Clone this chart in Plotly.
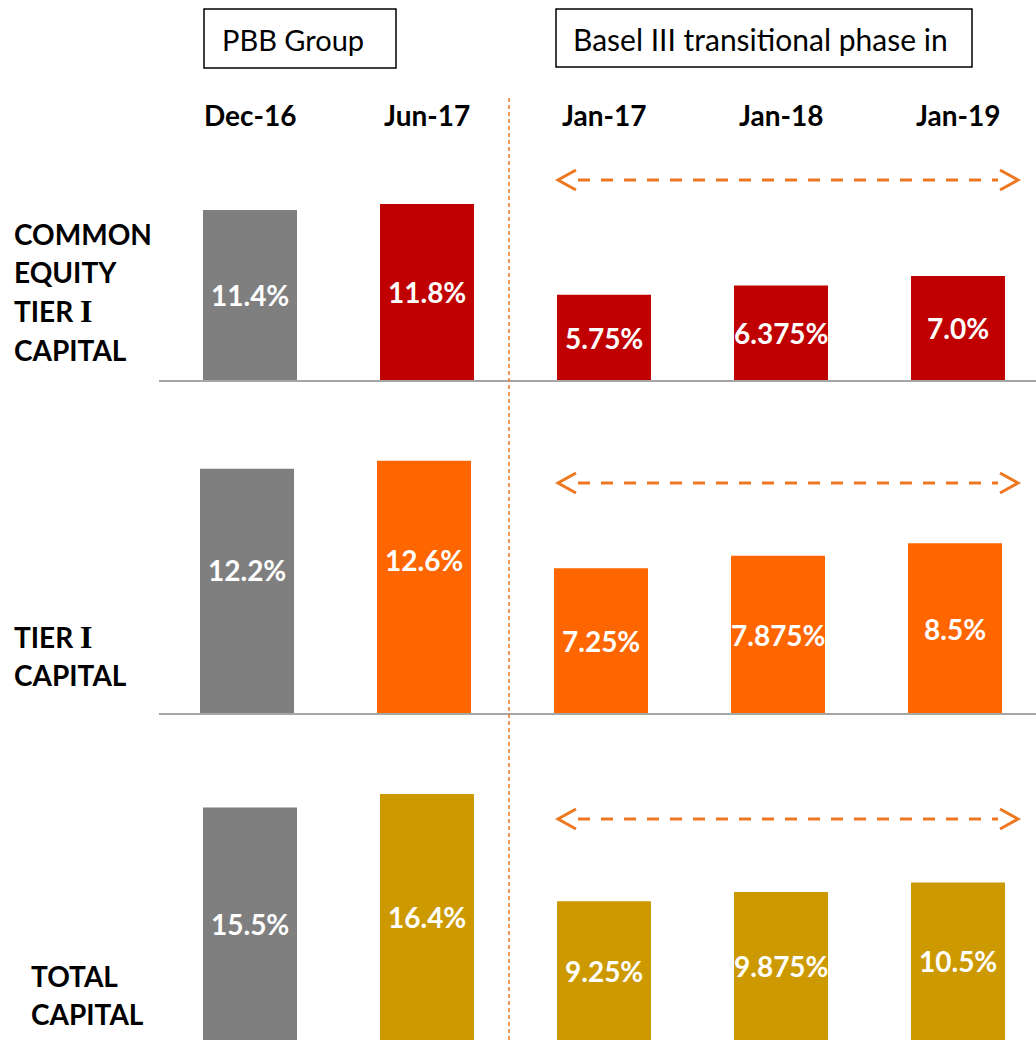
import plotly.graph_objects as go

# ---------------- data ----------------
periods = ["Dec-16", "Jun-17", "Jan-17", "Jan-18", "Jan-19"]
cet1_values = [11.4, 11.8, 5.75, 6.375, 7.0]
tier1_values = [12.2, 12.6, 7.25, 7.875, 8.5]
total_values = [15.5, 16.4, 9.25, 9.875, 10.5]
cet1_labels = ["11.4%", "11.8%", "5.75%", "6.375%", "7.0%"]
tier1_labels = ["12.2%", "12.6%", "7.25%", "7.875%", "8.5%"]
total_labels = ["15.5%", "16.4%", "9.25%", "9.875%", "10.5%"]
row_titles = [["COMMON", "EQUITY", "TIER I", "CAPITAL"], ["TIER I", "CAPITAL"], ["TOTAL", "CAPITAL"]]
group_titles = ["PBB Group", "Basel III transitional phase in"]

# ---------------- style ----------------
W, H = 1036, 1040
FONT = "Lato, 'Open Sans', sans-serif"
GRAY = "#7F7F7F"
RED = "#C00000"
ORANGE = "#FF6600"
GOLD = "#CC9900"
ARROW = "#EE7722"


def py(px):
    return 1 - px / H


def px_x(px):
    return px / W


rows = [
    dict(vals=cet1_values, labels=cet1_labels, color=RED, base=381, top=150, scale=15.0,
         center0=250, shifts=[0, 0, 0, 0, 0]),
    dict(vals=tier1_values, labels=tier1_labels, color=ORANGE, base=714, top=420, scale=20.1,
         center0=247, shifts=[21, 27, 0, 0, 0]),
    dict(vals=total_values, labels=total_labels, color=GOLD, base=1040, top=760, scale=15.0,
         center0=250, shifts=[0, 0, 0, 0, 0]),
]
STEP = 177.0
BARW = 94 / STEP

fig = go.Figure()
layout = dict(width=W, height=H, margin=dict(l=0, r=0, t=0, b=0),
              paper_bgcolor="white", plot_bgcolor="white", showlegend=False,
              font=dict(family=FONT))
annotations = []
shapes = []

for i, r in enumerate(rows):
    ax = "" if i == 0 else str(i + 1)
    colors = [GRAY, r["color"], r["color"], r["color"], r["color"]]
    fig.add_trace(go.Bar(
        x=periods, y=r["vals"], width=BARW, marker=dict(color=colors, line=dict(width=0)),
        xaxis="x" + ax, yaxis="y" + ax, hoverinfo="skip"))
    layout["xaxis" + ax] = dict(
        domain=[0, 1], anchor="y" + ax, type="category", categoryorder="array",
        categoryarray=periods,
        range=[-r["center0"] / STEP, (W - r["center0"]) / STEP],
        showgrid=False, showticklabels=False, zeroline=False, showline=False, ticks="")
    layout["yaxis" + ax] = dict(
        domain=[py(r["base"]), py(r["top"])], anchor="x" + ax,
        range=[0, (r["base"] - r["top"]) / r["scale"]],
        showgrid=False, showticklabels=False, zeroline=False, showline=False, ticks="")
    for j, (p, v, lab) in enumerate(zip(periods, r["vals"], r["labels"])):
        annotations.append(dict(
            x=p, y=v / 2, xref="x" + ax, yref="y" + ax, text="<b>" + lab + "</b>",
            showarrow=False, yshift=r["shifts"][j], xanchor="center", yanchor="middle",
            font=dict(family=FONT, size=28, color="white")))
    # baselines
    if i < 2:
        shapes.append(dict(type="line", xref="paper", yref="paper",
                           x0=px_x(159), x1=1, y0=py(r["base"]), y1=py(r["base"]),
                           line=dict(color="#A6A6A6", width=2)))

# column headers
for p in periods:
    annotations.append(dict(x=p, y=py(115), xref="x", yref="paper", text="<b>" + p + "</b>",
                            showarrow=False, xanchor="center", yanchor="middle",
                            font=dict(family=FONT, size=28, color="black")))

# group title boxes
shapes.append(dict(type="rect", xref="paper", yref="paper",
                   x0=px_x(204), x1=px_x(396), y0=py(68), y1=py(9),
                   line=dict(color="black", width=1.5)))
shapes.append(dict(type="rect", xref="paper", yref="paper",
                   x0=px_x(556), x1=px_x(972), y0=py(67), y1=py(9),
                   line=dict(color="black", width=1.5)))
annotations.append(dict(x=px_x(293), y=py(40), xref="paper", yref="paper", text=group_titles[0],
                        showarrow=False, xanchor="center", yanchor="middle",
                        font=dict(family=FONT, size=29, color="black")))
annotations.append(dict(x=px_x(760), y=py(39), xref="paper", yref="paper", text=group_titles[1],
                        showarrow=False, xanchor="center", yanchor="middle",
                        font=dict(family=FONT, size=30, color="black")))

# row titles
row_title_pos = [(12, [234, 272, 311, 350]), (12, [637, 675]), (29, [976, 1014])]
for lines, (xl, ys) in zip(row_titles, row_title_pos):
    for line, yy in zip(lines, ys):
        txt = line
        if line == "TIER I":
            txt = "TIER <span style=\"font-family:'Liberation Serif',serif;font-size:32px\">I</span>"
        annotations.append(dict(x=px_x(xl), y=py(yy), xref="paper", yref="paper",
                                xanchor="left", yanchor="middle", text="<b>" + txt + "</b>",
                                showarrow=False,
                                font=dict(family=FONT, size=28, color="black")))

# vertical dashed divider
shapes.append(dict(type="line", xref="paper", yref="paper", x0=px_x(509), x1=px_x(509),
                   y0=0, y1=py(98), line=dict(color=ARROW, width=1.5, dash="4px,3px")))

# double-headed dashed arrows
for ay in [180, 483, 819]:
    shapes.append(dict(type="line", xref="paper", yref="paper",
                       x0=px_x(578), x1=px_x(998), y0=py(ay), y1=py(ay),
                       line=dict(color=ARROW, width=3, dash="12px,11px")))
    shapes.append(dict(type="path", xref="paper", yref="paper",
                       path=f"M {px_x(576)},{py(ay - 10)} L {px_x(558)},{py(ay)} L {px_x(576)},{py(ay + 10)}",
                       line=dict(color=ARROW, width=3)))
    shapes.append(dict(type="path", xref="paper", yref="paper",
                       path=f"M {px_x(1000)},{py(ay - 10)} L {px_x(1018)},{py(ay)} L {px_x(1000)},{py(ay + 10)}",
                       line=dict(color=ARROW, width=3)))

layout["annotations"] = annotations
layout["shapes"] = shapes
fig.update_layout(**layout)
fig.write_html("out.html", config={"displayModeBar": False},
               post_script="document.body.style.margin='0';document.body.style.overflow='hidden';")
